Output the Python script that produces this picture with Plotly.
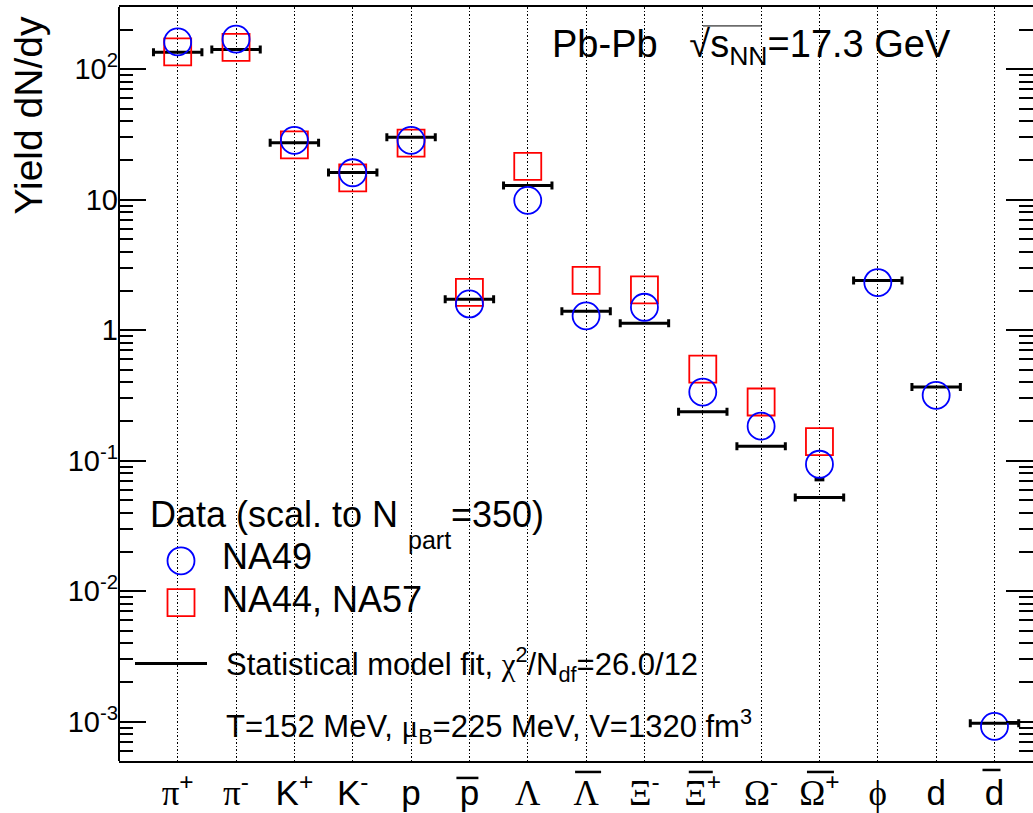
import math
import plotly.graph_objects as go

# Particle species (x categories) and their axis labels
species = ["pi+", "pi-", "K+", "K-", "p", "pbar", "Lambda", "Lambdabar",
           "Xi-", "Xibar+", "Omega-", "Omegabar+", "phi", "d", "dbar"]

SERIF = "font-family:'Liberation Serif','Times New Roman',serif"
tick_labels = [
    f"<span style=\"{SERIF}\">\u03c0</span><sup>+</sup>",
    f"<span style=\"{SERIF}\">\u03c0</span><sup>-</sup>",
    "K<sup>+</sup>",
    "K<sup>-</sup>",
    "p",
    "p",
    f"<span style=\"{SERIF}\">\u039b</span>",
    f"<span style=\"{SERIF}\">\u039b</span>",
    f"<span style=\"{SERIF}\">\u039e</span><sup>-</sup>",
    f"<span style=\"{SERIF}\">\u039e</span><sup>+</sup>",
    f"<span style=\"{SERIF}\">\u03a9</span><sup>-</sup>",
    f"<span style=\"{SERIF}\">\u03a9</span><sup>+</sup>",
    f"<span style=\"{SERIF}\">\u03d5</span>",
    "d",
    "d",
]
# antiparticle bars over labels: (category index, bar length px, shift px, height px)
label_bars = [(6, 22, -2, 781), (8, 26, 2, 775), (10, 24, -2, 775),
              (12, 27, 1, 775), (15, 18, -3, 773)]

# Measured yields dN/dy (scaled to N_part = 350)
na49 = [162, 170, 28.5, 16.1, 28.5, 1.59, 9.9, 1.29, 1.50, 0.336, 0.184,
        0.094, 2.32, 0.317, 9.2e-4]
na49_err = [None, None, None, None, None, None, None, None, None, None, None,
            0.022, None, None, None]
na44_na57 = [136, 147, 26.3, 14.7, 27.2, 1.95, 18.0, 2.41, 2.04, 0.504, 0.282,
             0.140, None, None, None]

# Statistical model fit yields
model = [135, 142, 27.4, 16.2, 30.1, 1.73, 12.85, 1.40, 1.13, 0.237, 0.129,
         0.0522, 2.41, 0.367, 9.75e-4]

x_pos = list(range(1, len(species) + 1))

W, H = 1033, 813
L, R, T, B = 119, 0, 7, 49
PW, PH = W - L - R, H - T - B


def px(x):
    return (x - L) / PW


def py(y):
    return (H - B - y) / PH


FONT = "Liberation Sans, Arial, Helvetica, sans-serif"
BLUE = "rgb(0,0,255)"
RED = "rgb(255,0,0)"

fig = go.Figure()

# model fit: horizontal bars with end caps
fig.add_trace(go.Scatter(
    x=x_pos, y=model, mode="markers",
    marker=dict(size=1, color="rgba(0,0,0,0)"),
    error_x=dict(type="constant", value=0.415, thickness=3, width=4,
                 color="black"),
    showlegend=False, hoverinfo="skip",
))

fig.add_trace(go.Scatter(
    x=x_pos, y=na44_na57, mode="markers",
    marker=dict(symbol="square-open", size=27, color=RED,
                line=dict(width=1.8, color=RED)),
    showlegend=False,
))

# lower error-bar ends of NA49 points that reach outside the marker
err_x = [x for x, e in zip(x_pos, na49_err) if e is not None]
err_lo = [v - e for v, e in zip(na49, na49_err) if e is not None]
fig.add_trace(go.Scatter(
    x=err_x, y=err_lo, mode="markers",
    marker=dict(symbol="line-ew", size=7, color="black",
                line=dict(width=4, color="black")),
    showlegend=False, hoverinfo="skip",
))

fig.add_trace(go.Scatter(
    x=x_pos, y=na49, mode="markers",
    marker=dict(symbol="circle-open", size=27, color=BLUE,
                line=dict(width=1.8, color=BLUE)),
    showlegend=False,
))

# y-axis decades and minor ticks
decades = [1e-3, 1e-2, 1e-1, 1, 10, 100]
decade_text = ["10<sup>-3</sup>", "10<sup>-2</sup>", "10<sup>-1</sup>",
               "1", "10", "10<sup>2</sup>"]
minor_vals = [m * 10.0 ** e for e in range(-4, 3) for m in range(2, 10)]

fig.update_yaxes(
    type="log",
    range=[math.log10(5e-4), math.log10(300)],
    tickmode="array", tickvals=decades, ticktext=decade_text,
    ticks="inside", ticklen=27, tickwidth=1.7, tickcolor="black",
    minor=dict(tickmode="array", tickvals=minor_vals, ticks="inside",
               ticklen=14, tickwidth=1.7, tickcolor="black", showgrid=False),
    showgrid=False, showline=False, mirror="ticks", zeroline=False,
    tickfont=dict(family=FONT, size=29, color="black"),
)

fig.update_xaxes(
    range=[-0.006, 15.66],
    tickmode="array", tickvals=x_pos, ticktext=tick_labels,
    ticks="", showgrid=True, gridcolor="black", gridwidth=1.2,
    griddash="1.5px,2px",
    showline=True, linewidth=2, linecolor="black", mirror=True,
    zeroline=False,
    tickfont=dict(family=FONT, size=35, color="black"),
)

shapes = [
    # left frame line
    dict(type="line", xref="paper", yref="paper", x0=0, x1=0, y0=0, y1=1,
         line=dict(color="black", width=2)),
    # legend glyphs
    dict(type="circle", xref="paper", yref="paper", xsizemode="pixel",
         ysizemode="pixel", xanchor=px(181), yanchor=py(563),
         x0=-13.5, x1=13.5, y0=-13.5, y1=13.5,
         line=dict(color=BLUE, width=1.8)),
    dict(type="rect", xref="paper", yref="paper", xsizemode="pixel",
         ysizemode="pixel", xanchor=px(181), yanchor=py(605),
         x0=-13.5, x1=13.5, y0=-13.5, y1=13.5,
         line=dict(color=RED, width=1.8)),
    dict(type="line", xref="paper", yref="paper", x0=px(135), x1=px(207),
         y0=py(666), y1=py(666), line=dict(color="black", width=3)),
    # vinculum of the square root in the header
    dict(type="line", xref="paper", yref="paper", x0=px(703), x1=px(762),
         y0=py(26), y1=py(26), line=dict(color="black", width=1)),
]
for idx, length, shift, ypix in label_bars:
    shapes.append(dict(
        type="line", xref="x", yref="paper", xsizemode="pixel",
        xanchor=x_pos[idx - 1], x0=shift - length / 2, x1=shift + length / 2,
        y0=py(ypix), y1=py(ypix), line=dict(color="black", width=2.5)))


def label(text, x, y, size, anchor="left"):
    return dict(text=text, xref="paper", yref="paper", x=px(x), y=py(y),
                xanchor=anchor, yanchor="middle", showarrow=False,
                font=dict(family=FONT, size=size, color="black"))


NB = "\u00a0"
annotations = [
    dict(text="Yield dN/dy", xref="paper", yref="paper", x=px(29), y=py(116),
         xanchor="center", yanchor="middle", textangle=-90, showarrow=False,
         font=dict(family=FONT, size=39, color="black")),
    label(f"Pb-Pb{NB}{NB}{NB}\u221as<sub>NN</sub>=17.3 GeV", 550, 47, 38),
    label("Data (scal. to N", 148, 517, 36),
    label("part", 406, 542, 25),
    label("=350)", 449, 517, 36),
    label("NA49", 220, 559, 36),
    label("NA44, NA57", 220, 602, 36),
    label(f"Statistical model fit, <span style=\"{SERIF}\">\u03c7</span>"
          "<sup>2</sup>/N<sub>df</sub>=26.0/12", 224, 667, 31),
    label(f"T=152 MeV, <span style=\"{SERIF}\">\u03bc</span><sub>B</sub>"
          "=225 MeV, V=1320 fm<sup>3</sup>", 224, 729, 31),
]

fig.update_layout(
    width=W, height=H,
    margin=dict(l=L, r=R, t=T, b=B, pad=0),
    paper_bgcolor="white", plot_bgcolor="white",
    shapes=shapes, annotations=annotations,
    showlegend=False,
)

fig.write_html("out.html")
